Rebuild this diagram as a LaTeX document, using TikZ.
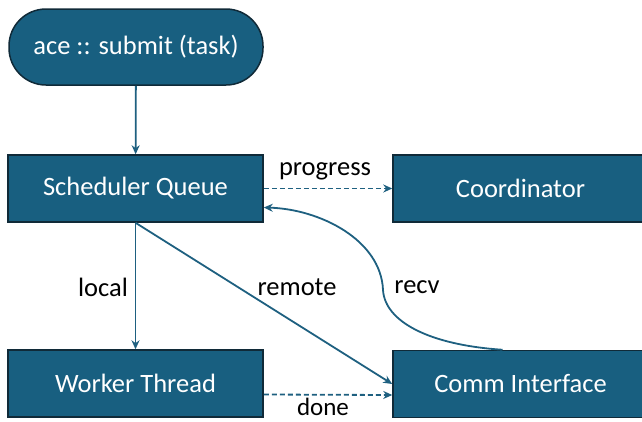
\documentclass[tikz,border=0pt]{standalone}
\usepackage{fontspec}
\setmainfont{Carlito}
\usetikzlibrary{arrows.meta}
\definecolor{boxfill}{RGB}{24,95,128}
\definecolor{boxline}{RGB}{16,42,56}
\definecolor{arrowc}{RGB}{30,96,128}
\begin{document}
\begin{tikzpicture}[x=1pt,y=-1pt, font=\fontsize{26.5}{30}\selectfont,
 box/.style={draw=boxline, line width=1.5pt, fill=boxfill, text=white, minimum width=255pt, minimum height=67pt, inner sep=0pt},
 pill/.style={box, rounded corners=37pt, minimum height=76pt, minimum width=254pt},
 conn/.style={draw=arrowc, line width=1.8pt, -{Stealth[length=9pt,width=8pt]}},
 dconn/.style={conn, dash pattern=on 5pt off 3pt},
 lbl/.style={text=black, inner sep=1pt}]
\useasboundingbox (0,0) rectangle (642,421);
\node[pill] (submit) at (136,47) {ace :: submit (task)};
\node[box] (sched) at (135.5,188.5) {Scheduler Queue};
\node[box] (coord) at (520.5,188.5) {Coordinator};
\node[box] (worker) at (135.5,383.5) {Worker Thread};
\node[box] (comm) at (520.5,384) {Comm Interface};
\draw[conn] (submit) -- (sched);
\draw[dconn] (sched.east) -- (coord.west);
\node[lbl] (lprog) at (325,171) {progress};
\draw[conn] (sched) -- (worker);
\node[lbl] (llocal) at (103,287) {local};
\draw[conn] (sched.south) -- (comm.west);
\node[lbl] (lremote) at (297,287) {remote};
\draw[dconn] ([yshift=-11pt]worker.east) -- ([yshift=-11pt]comm.west);
\node[lbl, inner sep=0pt, font=\fontsize{25}{28}\selectfont] (ldone) at (323,407) {done};
\draw[conn] ([xshift=-18pt]comm.north) .. controls (430,345) and (385,322) .. (383,290)
  .. controls (381,240) and (320,209) .. ([yshift=-19pt]sched.east);
\node[lbl] (lrecv) at (417,287) {recv};
\end{tikzpicture}
\end{document}
